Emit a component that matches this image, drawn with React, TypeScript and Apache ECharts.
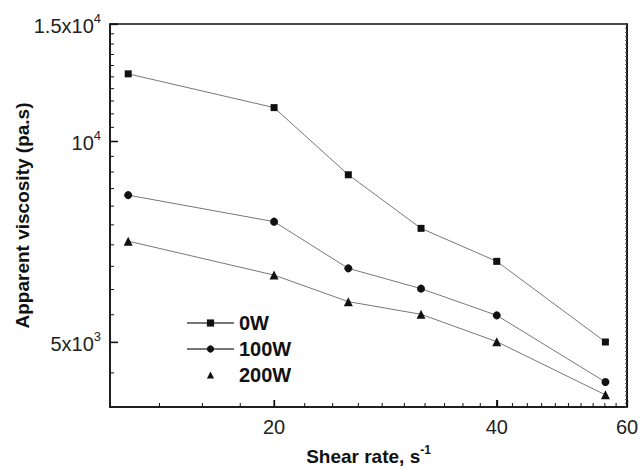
import React, { useEffect, useRef } from "react";
import * as echarts from "echarts";

const shearRate = [12.7, 20, 25.2, 31.6, 40, 56.1];
const visc0W = [12630, 11240, 8915, 7410, 6612, 5006];
const visc100W = [8310, 7583, 6454, 6018, 5488, 4360];
const visc200W = [7090, 6306, 5754, 5508, 5012, 4171];
const seriesNames = ["0W", "100W", "200W"];
const seriesSymbols = ["rect", "circle", "triangle"];

const xRange = [12, 60];
const xLabelValues = [20, 40, 60];
const xMinorTicks = [14, 16, 18, 22, 24, 26, 28, 30, 32, 34, 36, 38, 42, 44, 46, 48, 50, 52, 54, 56, 58];
const yRange = [4000, 15000];
const yLabelValues = [5000, 10000, 15000];
const yLabelTexts = ["{b|5x10}{s|3}", "{b|10}{s|4}", "{b|1.5x10}{s|4}"];
const yMinorTicks = [4500, 5500, 6000, 6500, 7000, 7500, 8000, 8500, 9000, 9500, 10500, 11000, 11500, 12000, 12500, 13000, 13500, 14000, 14500];

const FONT = "'Liberation Sans', Arial, sans-serif";
const lg = (v: number) => Math.log10(v);

function nearestIndex(list: number[], v: number) {
  let best = -1;
  let bd = Infinity;
  list.forEach((x, i) => {
    const d = Math.abs(lg(x) - v);
    if (d < bd) {
      bd = d;
      best = i;
    }
  });
  return bd < 1e-3 ? best : -1;
}

function tickSeries(ticks: number[], dir: "x" | "y", len: number, width: number) {
  return {
    type: "scatter",
    silent: true,
    clip: false,
    z: 6,
    xAxisIndex: 0,
    yAxisIndex: 0,
    data: ticks.map((t) =>
      dir === "x" ? [lg(t), lg(yRange[0])] : [lg(xRange[0]), lg(t)]
    ),
    symbol: "rect",
    symbolSize: dir === "x" ? [width, len] : [len, width],
    symbolOffset: dir === "x" ? [0, -len / 2] : [len / 2, 0],
    itemStyle: { color: "#111", borderWidth: 0, opacity: 1 },
    emphasis: { disabled: true },
  };
}

export default function App() {
  const ref = useRef<HTMLDivElement>(null);
  useEffect(() => {
    if (!ref.current) return;
    const chart = echarts.init(ref.current, undefined, { renderer: "svg" });
    const values = [visc0W, visc100W, visc200W];
    const symbolSizes = [7, 8, 9];
    const supRich = {
      b: { fontSize: 20, fontFamily: FONT, color: "#222", lineHeight: 24, padding: [8, 0, 0, 0], verticalAlign: "bottom" },
      s: { fontSize: 13, fontFamily: FONT, color: "#222", lineHeight: 14, verticalAlign: "top" },
    };
    chart.setOption({
      animation: false,
      backgroundColor: "#fff",
      grid: {
        left: 110,
        right: 13,
        top: 24,
        bottom: 59,
        outerBoundsMode: "none",
        containLabel: false,
        show: true,
        borderColor: "#111",
        borderWidth: 1.5,
        backgroundColor: "transparent",
      },
      legend: {
        orient: "vertical",
        left: 181,
        top: 308,
        itemWidth: 47,
        itemHeight: 9,
        itemGap: 6,
        data: seriesNames.map((n, i) => ({
          name: n,
          lineStyle: i === 2 ? { opacity: 0 } : undefined,
        })),
        textStyle: {
          fontFamily: FONT,
          fontSize: 20,
          fontWeight: "bold",
          color: "#111",
        },
      },
      xAxis: {
        type: "value",
        min: lg(xRange[0]),
        max: lg(xRange[1]),
        position: "bottom",
        splitLine: { show: false },
        name: "{t|Shear rate, s}{u|-1}",
        nameLocation: "middle",
        nameGap: 26,
        nameTextStyle: {
          rich: {
            t: { fontSize: 19, fontWeight: "bold", fontFamily: FONT, color: "#111", lineHeight: 22, padding: [5, 0, 0, 0], verticalAlign: "bottom" },
            u: { fontSize: 12, fontWeight: "bold", fontFamily: FONT, color: "#111", lineHeight: 12, verticalAlign: "top" },
          },
        },
        axisLine: { show: true, lineStyle: { color: "#111", width: 1.5 } },
        axisTick: { show: true, inside: true, length: 7, customValues: xLabelValues.map(lg), lineStyle: { color: "#111", width: 1.3 } },
        axisLabel: {
          show: true,
          customValues: xLabelValues.map(lg),
          formatter: (v: number) => {
            const i = nearestIndex(xLabelValues, v);
            return i >= 0 ? String(xLabelValues[i]) : "";
          },
          fontFamily: FONT,
          fontSize: 20,
          color: "#222",
          margin: 10,
        },
      },
      yAxis: [
        {
          type: "value",
          min: lg(yRange[0]),
          max: lg(yRange[1]),
          position: "left",
          splitLine: { show: false },
          name: "Apparent viscosity (pa.s)",
          nameLocation: "middle",
          nameGap: 78,
          nameMoveOverlap: false,
          nameTextStyle: { fontSize: 19, fontWeight: "bold", fontFamily: FONT, color: "#111" },
          axisLine: { show: true, lineStyle: { color: "#111", width: 1.5 } },
          axisTick: { show: true, inside: true, length: 8, customValues: yLabelValues.map(lg), lineStyle: { color: "#111", width: 1.3 } },
          axisLabel: {
            show: true,
            customValues: yLabelValues.map(lg),
            formatter: (v: number) => {
              const i = nearestIndex(yLabelValues, v);
              return i >= 0 ? yLabelTexts[i] : "";
            },
            rich: supRich,
            margin: 9,
          },
        },
        {
          type: "value",
          min: 0,
          max: 96,
          interval: 1,
          position: "right",
          splitLine: { show: false },
          axisLine: { show: true, lineStyle: { color: "#111", width: 1.5 } },
          axisTick: { show: true, inside: true, length: 2, lineStyle: { color: "#444", width: 0.8 } },
          axisLabel: { show: false },
        },
      ],
      series: [
        ...seriesNames.map((name, i) => ({
          name,
          type: "line",
          xAxisIndex: 0,
          yAxisIndex: 0,
          data: shearRate.map((x, j) => [lg(x), lg(values[i][j])]),
          symbol: seriesSymbols[i],
          symbolSize: symbolSizes[i],
          showAllSymbol: true,
          itemStyle: { color: "#111", borderWidth: 0 },
          lineStyle: { color: "#777", width: 1 },
          z: 3,
        })),
        tickSeries(xLabelValues, "x", 7, 1.3),
        tickSeries(xMinorTicks, "x", 4, 1),
        tickSeries(yLabelValues, "y", 8, 1.3),
        tickSeries(yMinorTicks, "y", 4, 1),
      ],
    });
    return () => chart.dispose();
  }, []);
  return (
    <div
      ref={ref}
      style={{ position: "fixed", left: 0, top: 0, width: 640, height: 466, background: "#fff" }}
    />
  );
}
